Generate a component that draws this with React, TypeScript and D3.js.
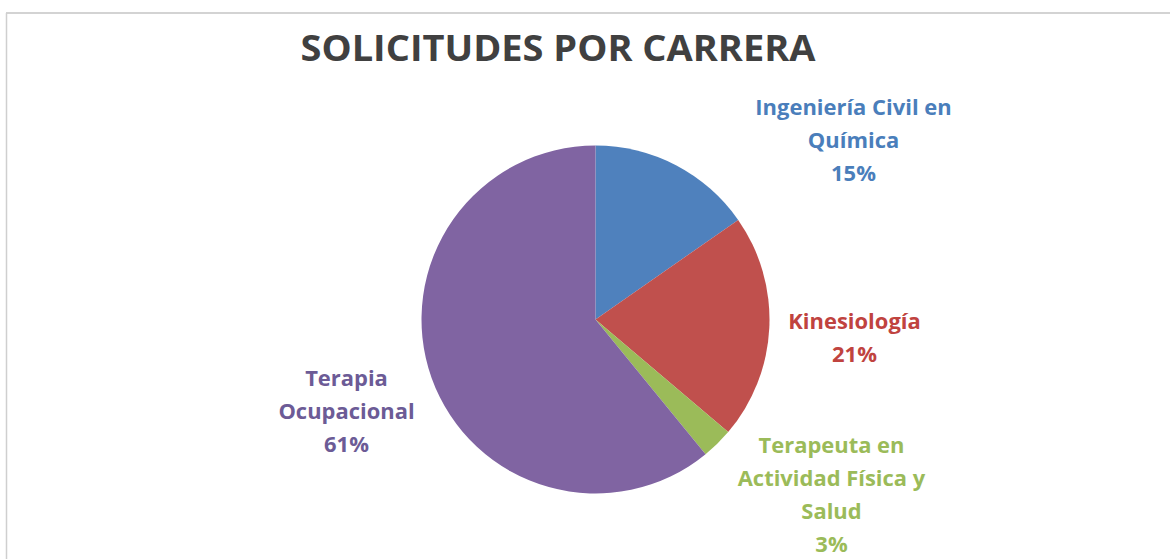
import React from "react";
import * as d3 from "d3";

const careers = [
  ["Ingeniería Civil en", "Química"],
  ["Kinesiología"],
  ["Terapeuta en", "Actividad Física y", "Salud"],
  ["Terapia", "Ocupacional"],
];
const shares = [15.3, 20.9, 2.9, 60.9];
const sliceColors = ["#4f81bd", "#c0504d", "#9bbb59", "#8064a2"];
const labelColors = ["#4a7ebb", "#c0433f", "#9bbb59", "#6c5b96"];
// label block centre, relative to pie centre (Excel "best fit" placement)
const labelOffsets = [
  [258, -180],
  [259, 17],
  [236, 174],
  [-249, 91],
];

const W = 1170;
const H = 559;
const cx = 595.5;
const cy = 319.5;
const radius = 174;
const lineGap = 33;
const stretch = 1.045; // source text looks slightly widened

export default function App() {
  const pie = d3.pie<number>().sort(null).value((d) => d);
  const arcs = pie(shares);
  const arc = d3.arc<d3.PieArcDatum<number>>().innerRadius(0).outerRadius(radius);
  const total = d3.sum(shares);
  const pct = (v: number) => Math.round((v / total) * 100) + "%";

  return (
    <svg
      width={W}
      height={H}
      style={{ position: "absolute", left: 0, top: 0, background: "#fff" }}
      fontFamily="'Open Sans', Lato, sans-serif"
    >
      <line x1={6} y1={13} x2={W} y2={13} stroke="#c4c4c4" strokeWidth={1.5} />
      <line x1={6.5} y1={13} x2={6.5} y2={H} stroke="#cfcfcf" strokeWidth={1.5} />

      <text
        x={558}
        y={61}
        textAnchor="middle"
        fontSize={35}
        fontWeight="bold"
        fill="#404040"
        textLength={515}
        lengthAdjust="spacingAndGlyphs"
      >
        SOLICITUDES POR CARRERA
      </text>

      <g transform={`translate(${cx},${cy})`}>
        {arcs.map((a, i) => (
          <path key={i} d={arc(a) || ""} fill={sliceColors[i]} />
        ))}
        {arcs.map((a, i) => {
          const lines = [...careers[i], pct(a.data)];
          const [dx, dy] = labelOffsets[i];
          const y0 = dy - ((lines.length - 1) / 2) * lineGap;
          return (
            <text
              key={"l" + i}
              transform={`translate(${dx},0) scale(${stretch},1)`}
              textAnchor="middle"
              dominantBaseline="central"
              fontSize={21}
              fontWeight="bold"
              fill={labelColors[i]}
            >
              {lines.map((t, j) => (
                <tspan key={j} x={0} y={y0 + j * lineGap}>
                  {t}
                </tspan>
              ))}
            </text>
          );
        })}
      </g>
    </svg>
  );
}
